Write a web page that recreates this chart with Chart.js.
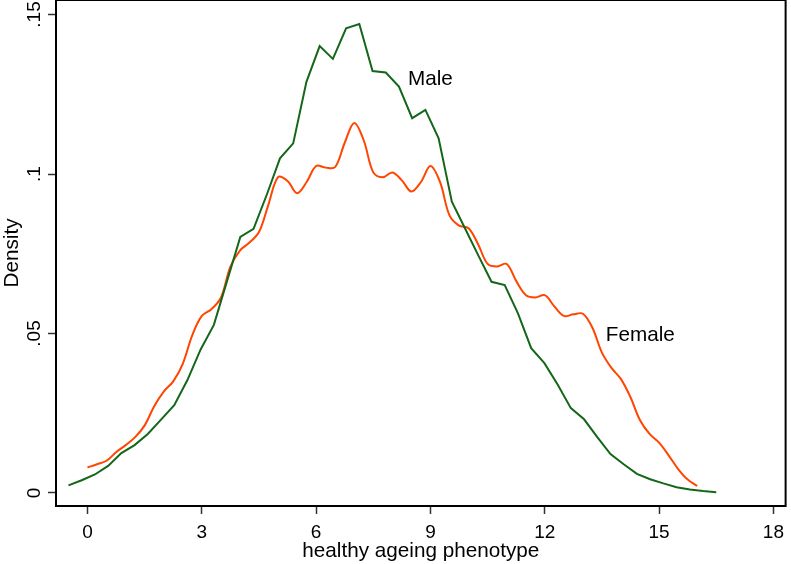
<!DOCTYPE html>
<html>
<head>
<meta charset="utf-8">
<script src="https://cdn.jsdelivr.net/npm/chart.js@4/dist/chart.umd.min.js"></script>
<style>
  html, body { margin: 0; padding: 0; background: #fff; }
  #wrap { width: 791px; height: 564px; }
</style>
</head>
<body>
<div id="wrap"><canvas id="chart" width="791" height="564"></canvas></div>
<script>
// kernel density, male (50 grid points)
const maleX = [
  -0.5, -0.153, 0.194, 0.541, 0.888, 1.235, 1.582, 1.929, 2.276, 2.622,
  2.969, 3.316, 3.663, 4.01, 4.357, 4.704, 5.051, 5.398, 5.745, 6.092,
  6.439, 6.786, 7.133, 7.48, 7.827, 8.173, 8.52, 8.867, 9.214, 9.561,
  9.908, 10.255, 10.602, 10.949, 11.296, 11.643, 11.99, 12.337, 12.684, 13.031,
  13.378, 13.724, 14.071, 14.418, 14.765, 15.112, 15.459, 15.806, 16.153, 16.5,
];
const maleY = [
  0.0024, 0.004, 0.0058, 0.0085, 0.0125, 0.015, 0.0185, 0.023, 0.0275, 0.0354,
  0.045, 0.0527, 0.0665, 0.0803, 0.0828, 0.0935, 0.1049, 0.1096, 0.1289, 0.1401,
  0.1361, 0.1457, 0.147, 0.1323, 0.1318, 0.1274, 0.1175, 0.1201, 0.1112, 0.0913,
  0.0829, 0.0745, 0.0662, 0.0652, 0.0563, 0.0454, 0.0407, 0.034, 0.0266, 0.0231,
  0.0175, 0.0122, 0.009, 0.006, 0.0043, 0.003, 0.0018, 0.0011, 0.0006, 0.0002,
];

// kernel density, female
const femaleX = [
  0, 0.25, 0.5, 0.75, 1, 1.25, 1.5, 1.75, 2, 2.25, 2.5, 2.75, 3, 3.25, 3.5, 3.75,
  4, 4.25, 4.5, 4.75, 5, 5.25, 5.5, 5.75, 6, 6.25, 6.5, 6.75, 7, 7.25, 7.5, 7.75,
  8, 8.25, 8.5, 8.75, 9, 9.25, 9.5, 9.75, 10, 10.25, 10.5, 10.75, 11, 11.25, 11.5, 11.75,
  12, 12.25, 12.5, 12.75, 13, 13.25, 13.5, 13.75, 14, 14.25, 14.5, 14.75, 15, 15.25, 15.5, 15.75,
  16,
];
const femaleY = [
  0.008, 0.009, 0.0101, 0.0128, 0.015, 0.0175, 0.0212, 0.0272, 0.0318, 0.035, 0.0405, 0.0495, 0.0555, 0.0576, 0.0612, 0.071,
  0.076, 0.0785, 0.0818, 0.0905, 0.099, 0.0978, 0.094, 0.0975, 0.1025, 0.102, 0.1022, 0.1098, 0.116, 0.1105, 0.1005, 0.099,
  0.1005, 0.098, 0.0945, 0.0975, 0.1025, 0.0975, 0.087, 0.0838, 0.083, 0.078, 0.0718, 0.071, 0.0718, 0.0665, 0.0621, 0.0613,
  0.062, 0.0585, 0.0555, 0.056, 0.0562, 0.0518, 0.044, 0.0392, 0.0357, 0.03, 0.0228, 0.0185, 0.0158, 0.0118, 0.0075, 0.0042,
  0.0022,
];

const xTicks = [0, 3, 6, 9, 12, 15, 18];
const yTicks = [0, 0.05, 0.1, 0.15];
const yTickLabels = ["0", ".05", ".1", ".15"];

const seriesNames = ["Male", "Female"];
const labelX = [8.41, 13.6];
const labelY = [0.1298, 0.0495];

const GREEN = "#14671a";
const ORANGE = "#ff4500";
const FONT = "'Liberation Sans', Arial, sans-serif";
const TICK_SIZE = 19;
const TEXT_SIZE = 20.7;

function toPoints(xs, ys) {
  return xs.map((x, i) => ({ x: x, y: ys[i] }));
}

const extras = {
  id: "extras",
  afterDraw(chart) {
    const { ctx, chartArea: a, scales } = chart;
    const xs = scales.x, ys = scales.y;
    ctx.save();
    // frame round the plot region
    ctx.strokeStyle = "#000";
    ctx.lineWidth = 2;
    ctx.strokeRect(a.left, a.top, a.right - a.left, a.bottom - a.top);
    // y tick labels, turned like the original
    ctx.fillStyle = "#000";
    ctx.font = TICK_SIZE + "px " + FONT;
    ctx.textAlign = "center";
    ctx.textBaseline = "alphabetic";
    yTicks.forEach((v, i) => {
      ctx.save();
      ctx.translate(40, ys.getPixelForValue(v));
      ctx.rotate(-Math.PI / 2);
      ctx.fillText(yTickLabels[i], 0, 0);
      ctx.restore();
    });
    // curve labels
    ctx.font = TEXT_SIZE + "px " + FONT;
    ctx.textAlign = "left";
    ctx.textBaseline = "middle";
    seriesNames.forEach((name, i) => {
      ctx.fillText(name, xs.getPixelForValue(labelX[i]), ys.getPixelForValue(labelY[i]));
    });
    ctx.restore();
  },
};

new Chart(document.getElementById("chart"), {
  type: "line",
  data: {
    datasets: [
      {
        label: seriesNames[0],
        data: toPoints(maleX, maleY),
        borderColor: GREEN,
        borderWidth: 2,
        pointRadius: 0,
        tension: 0,
        fill: false,
      },
      {
        label: seriesNames[1],
        data: toPoints(femaleX, femaleY),
        borderColor: ORANGE,
        borderWidth: 2,
        pointRadius: 0,
        tension: 0.35,
        fill: false,
      },
    ],
  },
  options: {
    responsive: false,
    animation: false,
    layout: { padding: { top: 0, right: 1, left: 0, bottom: 0 } },
    plugins: {
      legend: { display: false },
      tooltip: { enabled: false },
    },
    scales: {
      x: {
        type: "linear",
        min: -0.827,
        max: 18.32,
        afterBuildTicks: (s) => { s.ticks = xTicks.map((v) => ({ value: v })); },
        afterFit: (s) => { s.height = 58; },
        ticks: {
          color: "#000",
          font: { size: TICK_SIZE, family: FONT },
          padding: 7,
          maxRotation: 0,
          callback: (v) => String(v),
        },
        grid: { drawOnChartArea: false, drawTicks: true, tickLength: 8, tickColor: "#333", tickWidth: 1.5 },
        border: { display: true, color: "#000", width: 2 },
        title: {
          display: true,
          text: "healthy ageing phenotype",
          color: "#000",
          font: { size: TEXT_SIZE, family: FONT },
          padding: { top: 0, bottom: 0 },
        },
      },
      y: {
        type: "linear",
        min: -0.00408,
        max: 0.15455,
        afterBuildTicks: (s) => { s.ticks = yTicks.map((v) => ({ value: v })); },
        afterFit: (s) => { s.width = 56; },
        ticks: { display: false },
        grid: { drawOnChartArea: false, drawTicks: true, tickLength: 8, tickColor: "#333", tickWidth: 1.5 },
        border: { display: true, color: "#000", width: 2 },
        title: {
          display: true,
          text: "Density",
          color: "#000",
          font: { size: TEXT_SIZE, family: FONT },
          padding: { top: 0, bottom: 0 },
        },
      },
    },
  },
  plugins: [extras],
});
</script>
</body>
</html>
